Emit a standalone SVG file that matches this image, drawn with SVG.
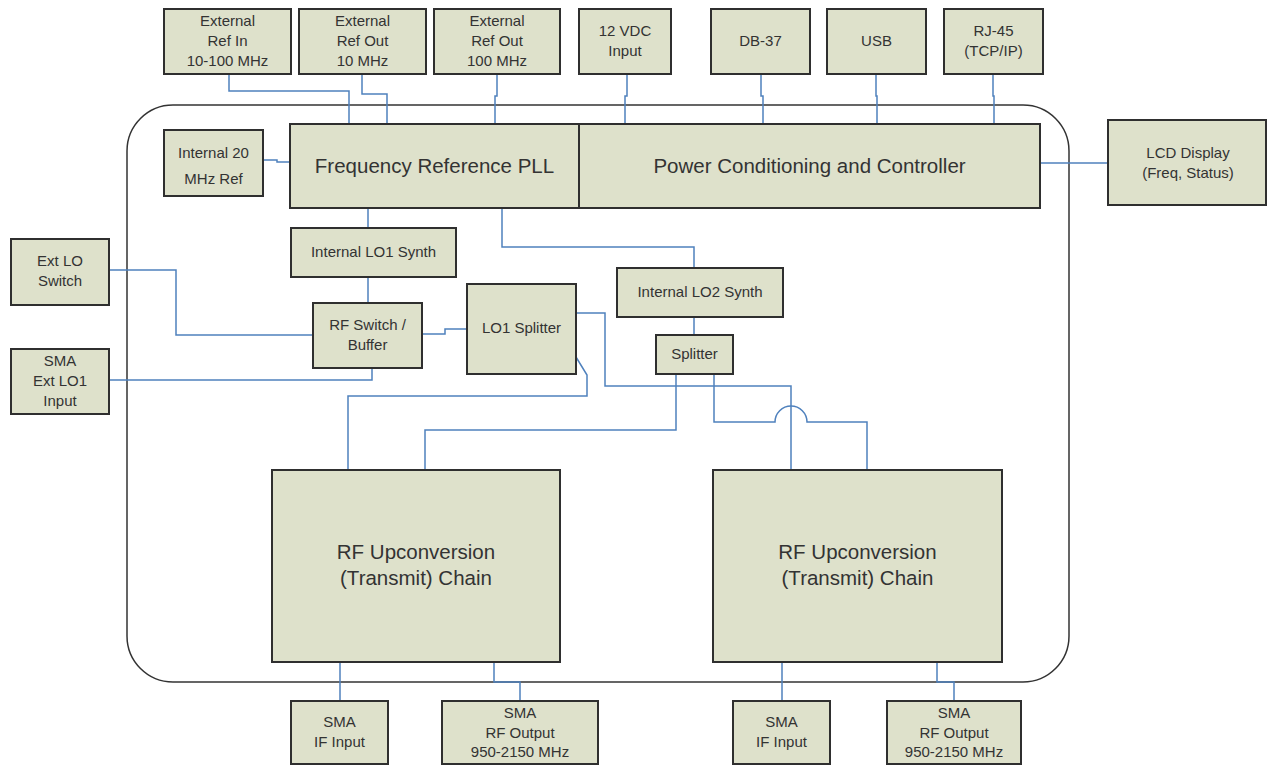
<svg xmlns="http://www.w3.org/2000/svg" width="1268" height="766" viewBox="0 0 1268 766">
<style>
.b{fill:#dee1cb;stroke:#2f2f2f;stroke-width:2}
.t{font-family:"Liberation Sans",Arial,sans-serif;font-size:15px;fill:#333;text-anchor:middle}
.L{font-size:20.5px}
.c{fill:none;stroke:#4f81bd;stroke-width:1.5}
</style>
<rect width="1268" height="766" fill="#fff"/>
<rect id="enclosure" x="127" y="105" width="942" height="577" rx="46" ry="46" fill="none" stroke="#333" stroke-width="1.5"/>
<g id="connectors">
<path class="c" d="M229,74V91H349V124"/>
<path class="c" d="M362,74V94H387V124"/>
<path class="c" d="M497,74V96H495V124"/>
<path class="c" d="M627,74V96H625V124"/>
<path class="c" d="M761,74V96H763V124"/>
<path class="c" d="M876,74V96H877V124"/>
<path class="c" d="M993,74V96H994V124"/>
<path class="c" d="M263,160H277V162H290"/>
<path class="c" d="M1040,163H1108"/>
<path class="c" d="M368,208V228"/>
<path class="c" d="M502,208V247H694V268"/>
<path class="c" d="M368,277V303"/>
<path class="c" d="M694,317V335"/>
<path class="c" d="M109,270H176V335H313"/>
<path class="c" d="M109,380H372V368"/>
<path class="c" d="M422,334H445V329H467"/>
<path class="c" d="M576,313H605V386H791V470"/>
<path class="c" d="M576,357L587,375V396H348V470"/>
<path class="c" d="M676,374V430H425V470"/>
<path class="c" d="M714,374V422H775A16,16 0 0 1 807,422H867V470"/>
<path class="c" d="M340,662V701"/>
<path class="c" d="M494,662V682H520V701"/>
<path class="c" d="M782,662V701"/>
<path class="c" d="M937,662V682H954V701"/>
</g>
<g id="ext-ref-in"><rect class="b" x="164" y="9" width="127" height="65"/><text class="t" x="227.5"><tspan x="227.5" y="26">External</tspan><tspan x="227.5" y="46">Ref In</tspan><tspan x="227.5" y="66">10-100 MHz</tspan></text></g>
<g id="ext-ref-out-10"><rect class="b" x="299" y="9" width="127" height="65"/><text class="t"><tspan x="362.5" y="26">External</tspan><tspan x="362.5" y="46">Ref Out</tspan><tspan x="362.5" y="66">10 MHz</tspan></text></g>
<g id="ext-ref-out-100"><rect class="b" x="434" y="9" width="126" height="65"/><text class="t"><tspan x="497" y="26">External</tspan><tspan x="497" y="46">Ref Out</tspan><tspan x="497" y="66">100 MHz</tspan></text></g>
<g id="vdc-input"><rect class="b" x="579" y="9" width="92" height="65"/><text class="t"><tspan x="625" y="36">12 VDC</tspan><tspan x="625" y="56">Input</tspan></text></g>
<g id="db37"><rect class="b" x="711" y="9" width="99" height="65"/><text class="t" x="760.5" y="46">DB-37</text></g>
<g id="usb"><rect class="b" x="827" y="9" width="99" height="65"/><text class="t" x="876.5" y="46">USB</text></g>
<g id="rj45"><rect class="b" x="944" y="9" width="99" height="65"/><text class="t"><tspan x="993.5" y="36">RJ-45</tspan><tspan x="993.5" y="56">(TCP/IP)</tspan></text></g>
<g id="internal-20"><rect class="b" x="164" y="130" width="99" height="66"/><text class="t"><tspan x="213.5" y="158">Internal 20</tspan><tspan x="213.5" y="184">MHz Ref</tspan></text></g>
<g id="freq-ref-pll"><rect class="b" x="290" y="124" width="289" height="84"/><text class="t L" x="434.5" y="173">Frequency Reference PLL</text></g>
<g id="power-controller"><rect class="b" x="579" y="124" width="461" height="84"/><text class="t L" x="809.5" y="173">Power Conditioning and Controller</text></g>
<g id="lcd"><rect class="b" x="1108" y="120" width="158" height="85"/><text class="t"><tspan x="1188" y="158">LCD Display</tspan><tspan x="1188" y="178">(Freq, Status)</tspan></text></g>
<g id="ext-lo-switch"><rect class="b" x="11" y="239" width="98" height="66"/><text class="t"><tspan x="60" y="266">Ext LO</tspan><tspan x="60" y="286">Switch</tspan></text></g>
<g id="sma-ext-lo1"><rect class="b" x="11" y="349" width="98" height="65"/><text class="t"><tspan x="60" y="366">SMA</tspan><tspan x="60" y="386">Ext LO1</tspan><tspan x="60" y="406">Input</tspan></text></g>
<g id="lo1-synth"><rect class="b" x="291" y="228" width="165" height="49"/><text class="t" x="373.5" y="257">Internal LO1 Synth</text></g>
<g id="rf-switch"><rect class="b" x="313" y="303" width="109" height="65"/><text class="t"><tspan x="367.5" y="330">RF Switch /</tspan><tspan x="367.5" y="350">Buffer</tspan></text></g>
<g id="lo1-splitter"><rect class="b" x="467" y="284" width="109" height="90"/><text class="t" x="521.5" y="333">LO1 Splitter</text></g>
<g id="lo2-synth"><rect class="b" x="617" y="268" width="166" height="49"/><text class="t" x="700" y="297">Internal LO2 Synth</text></g>
<g id="splitter"><rect class="b" x="656" y="335" width="77" height="39"/><text class="t" x="694.5" y="359">Splitter</text></g>
<g id="rf-chain-1"><rect class="b" x="272" y="470" width="288" height="192"/><text class="t L"><tspan x="416" y="559">RF Upconversion</tspan><tspan x="416" y="585">(Transmit) Chain</tspan></text></g>
<g id="rf-chain-2"><rect class="b" x="713" y="470" width="289" height="192"/><text class="t L"><tspan x="857.5" y="559">RF Upconversion</tspan><tspan x="857.5" y="585">(Transmit) Chain</tspan></text></g>
<g id="sma-if-1"><rect class="b" x="291" y="701" width="97" height="63"/><text class="t"><tspan x="339.5" y="727">SMA</tspan><tspan x="339.5" y="747">IF Input</tspan></text></g>
<g id="sma-rf-1"><rect class="b" x="442" y="701" width="156" height="63"/><text class="t"><tspan x="520" y="718">SMA</tspan><tspan x="520" y="738">RF Output</tspan><tspan x="520" y="757">950-2150 MHz</tspan></text></g>
<g id="sma-if-2"><rect class="b" x="733" y="701" width="97" height="63"/><text class="t"><tspan x="781.5" y="727">SMA</tspan><tspan x="781.5" y="747">IF Input</tspan></text></g>
<g id="sma-rf-2"><rect class="b" x="887" y="701" width="134" height="63"/><text class="t"><tspan x="954" y="718">SMA</tspan><tspan x="954" y="738">RF Output</tspan><tspan x="954" y="757">950-2150 MHz</tspan></text></g>
</svg>
